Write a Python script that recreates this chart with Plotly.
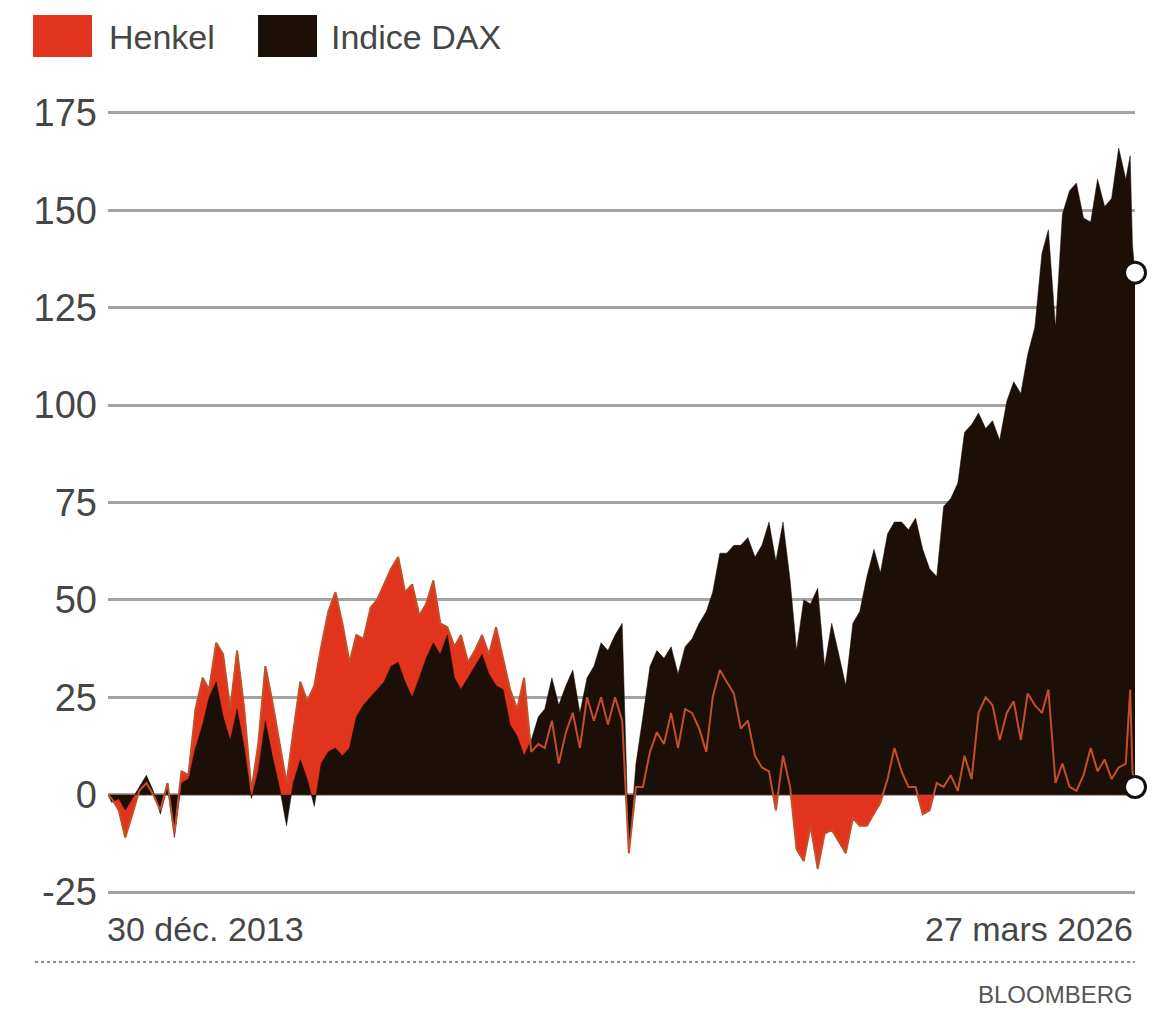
import plotly.graph_objects as go

# ---------------- data ----------------
dates = (
    ["2013-12-30"]
    + ["2014-%02d-15" % m for m in range(1, 13)]
    + ["2015-%02d-15" % m for m in range(1, 13)]
    + ["2016-%02d-15" % m for m in range(1, 13)]
    + ["2017-%02d-15" % m for m in range(1, 13)]
    + ["2018-%02d-15" % m for m in range(1, 13)]
    + ["2019-%02d-15" % m for m in range(1, 13)]
    + ["2020-%02d-15" % m for m in range(1, 13)]
    + ["2021-%02d-15" % m for m in range(1, 13)]
    + ["2022-%02d-15" % m for m in range(1, 13)]
    + ["2023-%02d-15" % m for m in range(1, 13)]
    + ["2024-%02d-15" % m for m in range(1, 13)]
    + ["2025-%02d-15" % m for m in range(1, 13)]
    + ["2026-01-15", "2026-02-15", "2026-03-06", "2026-03-16", "2026-03-27"]
)

henkel = (
    [0]
    + [-1, -4, -11, -5, 1, 3, 0, -4, 3, -10, 6, 5]          # 2014
    + [22, 30, 27, 39, 36, 22, 37, 22, 1, 13, 33, 24]       # 2015
    + [14, 3, 16, 29, 24, 28, 38, 47, 52, 44, 34, 41]       # 2016
    + [40, 48, 50, 54, 58, 61, 52, 54, 46, 49, 55, 44]      # 2017
    + [43, 38, 41, 34, 37, 41, 36, 43, 35, 27, 22, 30]      # 2018
    + [11, 13, 12, 19, 8, 16, 21, 12, 25, 19, 25, 18]       # 2019
    + [25, 19, -15, 2, 2, 11, 16, 13, 21, 12, 22, 21]       # 2020
    + [17, 11, 25, 32, 29, 26, 17, 19, 10, 7, 6, -4]        # 2021
    + [10, 2, -14, -17, -8, -19, -10, -9, -12, -15, -6, -8] # 2022
    + [-8, -5, -2, 4, 12, 6, 2, 2, -5, -4, 3, 2]            # 2023
    + [5, 1, 10, 4, 21, 25, 23, 14, 21, 24, 14, 26]         # 2024
    + [23, 21, 27, 3, 8, 2, 1, 5, 12, 6, 9, 4]              # 2025
    + [7, 8, 27, 6, 2]                                      # 2026
)

dax = (
    [0]
    + [-2, -1, -4, -1, 2, 5, 1, -5, 2, -11, 3, 4]           # 2014
    + [12, 18, 25, 29, 20, 14, 22, 12, -1, 6, 19, 10]       # 2015
    + [2, -8, 3, 9, 4, -3, 8, 11, 12, 10, 12, 20]           # 2016
    + [23, 25, 27, 29, 33, 34, 29, 25, 30, 35, 39, 36]      # 2017
    + [41, 30, 27, 30, 33, 36, 31, 28, 27, 18, 15, 10]      # 2018
    + [14, 20, 22, 30, 23, 28, 32, 21, 30, 33, 39, 37]      # 2019
    + [41, 44, -15, 8, 20, 33, 37, 35, 38, 31, 38, 40]      # 2020
    + [44, 47, 52, 62, 62, 64, 64, 66, 61, 64, 70, 60]      # 2021
    + [70, 55, 37, 50, 49, 53, 33, 44, 36, 28, 44, 47]      # 2022
    + [56, 63, 57, 67, 70, 70, 68, 71, 63, 58, 56, 74]      # 2023
    + [76, 80, 93, 95, 98, 94, 96, 91, 101, 106, 103, 113]  # 2024
    + [120, 139, 145, 120, 149, 155, 157, 148, 147, 158, 151, 153]  # 2025
    + [166, 158, 164, 141, 134]                             # 2026
)

y_ticks = [-25, 0, 25, 50, 75, 100, 125, 150, 175]
y_tick_labels = ["-25", "0", "25", "50", "75", "100", "125", "150", "175"]
series_names = ["Henkel", "Indice DAX"]
start_label = "30 déc. 2013"
end_label = "27 mars 2026"
source_label = "BLOOMBERG"

RED = "#e2341d"
BLACK = "#1b0f07"
HENKEL_LINE = "#c4502a"
GRID = "#a3a3a3"
TEXT = "#464646"
FONT = "Liberation Sans, Arial, Roboto, sans-serif"

fig = go.Figure()

# Henkel filled area
fig.add_trace(go.Scatter(
    x=dates, y=henkel, mode="lines", fill="tozeroy",
    fillcolor=RED, line=dict(color=RED, width=0.5),
    name=series_names[0], showlegend=False, hoverinfo="skip",
))
# DAX filled area on top
fig.add_trace(go.Scatter(
    x=dates, y=dax, mode="lines", fill="tozeroy",
    fillcolor=BLACK, line=dict(color=BLACK, width=0.5),
    name=series_names[1], showlegend=False,
))
# Henkel line on top
fig.add_trace(go.Scatter(
    x=dates, y=henkel, mode="lines",
    line=dict(color=HENKEL_LINE, width=2),
    name=series_names[0], showlegend=False,
))
# end-point circles
fig.add_trace(go.Scatter(
    x=[dates[-1], dates[-1]], y=[dax[-1], henkel[-1]], mode="markers",
    marker=dict(symbol="circle", size=21, color="white",
                line=dict(color="#111111", width=3)),
    cliponaxis=False, showlegend=False, hoverinfo="skip",
))

# the page body adds an 8px offset, so the figure is 8px smaller
fig.update_layout(
    width=1163, height=1002,
    margin=dict(l=100, r=36, t=101, b=114),
    paper_bgcolor="white", plot_bgcolor="white",
    font=dict(family=FONT, color=TEXT),
    showlegend=False,
    xaxis=dict(
        type="date", range=[dates[0], dates[-1]],
        showgrid=False, showticklabels=False, zeroline=False,
        showline=False, ticks="",
    ),
    yaxis=dict(
        range=[-26, 176], tickvals=y_ticks, ticktext=y_tick_labels,
        showgrid=True, gridcolor=GRID, gridwidth=2.5,
        zeroline=False, showline=False, ticks="",
        tickfont=dict(family=FONT, size=38, color=TEXT),
        ticklabelstandoff=10,
    ),
)

shapes = [
    # legend swatches
    dict(type="rect", xref="paper", yref="paper",
         x0=-0.0730, x1=-0.0156, y0=1.0661, y1=1.1194,
         fillcolor=RED, line=dict(width=0)),
    dict(type="rect", xref="paper", yref="paper",
         x0=0.1461, x1=0.2035, y0=1.0661, y1=1.1194,
         fillcolor=BLACK, line=dict(width=0)),
    # dotted separator
    dict(type="line", xref="paper", yref="paper",
         x0=-0.071, x1=1.0, y0=-0.0839, y1=-0.0839,
         line=dict(color="#8a8a8a", width=2, dash="dot")),
]
fig.update_layout(shapes=shapes)

annotations = [
    dict(text=series_names[0], xref="paper", yref="paper", x=-0.001, y=1.0915,
         xanchor="left", yanchor="middle", showarrow=False,
         font=dict(family=FONT, size=34, color=TEXT)),
    dict(text=series_names[1], xref="paper", yref="paper", x=0.215, y=1.0915,
         xanchor="left", yanchor="middle", showarrow=False,
         font=dict(family=FONT, size=34, color=TEXT)),
    dict(text=start_label, xref="paper", yref="paper", x=-0.003, y=-0.042,
         xanchor="left", yanchor="middle", showarrow=False,
         font=dict(family=FONT, size=34, color=TEXT)),
    dict(text=end_label, xref="paper", yref="paper", x=1.0, y=-0.042,
         xanchor="right", yanchor="middle", showarrow=False,
         font=dict(family=FONT, size=34, color=TEXT)),
    dict(text=source_label, xref="paper", yref="paper", x=1.0, y=-0.125,
         xanchor="right", yanchor="middle", showarrow=False,
         font=dict(family=FONT, size=24, color="#555555")),
]
fig.update_layout(annotations=annotations)

fig.write_html("out.html")
